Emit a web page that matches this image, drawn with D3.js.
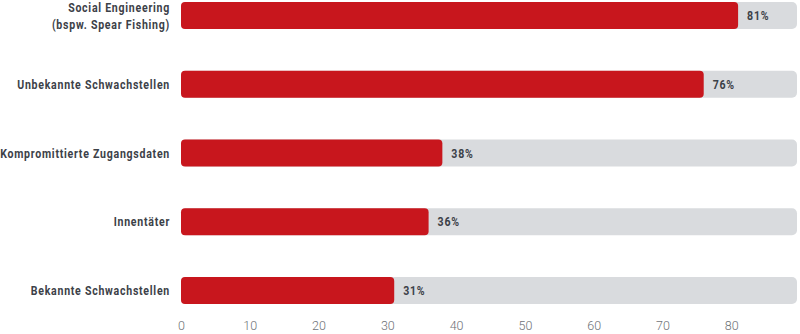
<!DOCTYPE html>
<html>
<head>
<meta charset="utf-8">
<script src="https://cdn.jsdelivr.net/npm/d3@7"></script>
<style>
  html, body { margin: 0; padding: 0; background: #fff; }
  svg { display: block; }
</style>
</head>
<body>
<svg id="chart" width="800" height="334"></svg>
<script>
// Angriffsvektoren, Anteil in Prozent
const categories = [
  ["Social Engineering", "(bspw. Spear Fishing)"],
  ["Unbekannte Schwachstellen"],
  ["Kompromittierte Zugangsdaten"],
  ["Innentäter"],
  ["Bekannte Schwachstellen"]
];
const values = [81, 76, 38, 36, 31];
const tickValues = [0, 10, 20, 30, 40, 50, 60, 70, 80];

const width = 800, height = 334;
const labelRight = 170;   // rechte Kante der Kategorienbeschriftung
const labelWidth = 170;   // verfügbare Breite für die längste Beschriftung
const lineGap = 17;       // Zeilenabstand mehrzeiliger Beschriftungen

const svg = d3.select("#chart");

const x = d3.scaleLinear()
  .domain([0, 90])
  .range([181, 800]);

const y = d3.scaleBand()
  .domain(d3.range(values.length))
  .range([2, 304])
  .paddingInner(0.607)
  .paddingOuter(0);

const bh = y.bandwidth();

// Hintergrundspur
svg.append("g").selectAll("rect")
  .data(values)
  .join("rect")
  .attr("x", x(0))
  .attr("y", (d, i) => y(i))
  .attr("width", 797 - x(0))
  .attr("height", bh)
  .attr("rx", 5)
  .attr("fill", "#d9dbde");

// Werte
svg.append("g").selectAll("rect")
  .data(values)
  .join("rect")
  .attr("x", x(0))
  .attr("y", (d, i) => y(i))
  .attr("width", d => x(d) - x(0))
  .attr("height", bh)
  .attr("rx", 4)
  .attr("fill", "#c8161d");

const fontFamily = "Roboto, sans-serif";
const fontSize = 13;

// Kategorien (schmal gesetzt)
const labelG = svg.append("g");
const labels = labelG.selectAll("text")
  .data(categories)
  .join("text")
  .attr("x", 0)
  .attr("y", (d, i) => y(i) + bh / 2)
  .attr("text-anchor", "end")
  .attr("font-family", fontFamily)
  .attr("font-weight", 700)
  .attr("font-size", fontSize)
  .attr("letter-spacing", "0.9px")
  .attr("fill", "#3c4148");

labels.each(function(lines, i) {
  const t = d3.select(this);
  const n = lines.length;
  const c = y(i) + bh / 2;
  lines.forEach((line, k) => {
    t.append("tspan")
      .attr("x", 0)
      .attr("y", c + (k - (n - 1) / 2) * lineGap + fontSize * 0.35)
      .text(line);
  });
});

// horizontale Stauchung so, dass die längste Zeile in die Spalte passt
let maxW = 0;
labels.selectAll("tspan").each(function() {
  maxW = Math.max(maxW, this.getComputedTextLength());
});
const sx = Math.min(1, labelWidth / maxW);
labelG.attr("transform", `translate(${labelRight},0) scale(${sx},1)`);

// Prozentangaben
svg.append("g").selectAll("text")
  .data(values)
  .join("text")
  .attr("transform", (d, i) => `translate(${x(d) + 9},${y(i) + bh / 2}) scale(${sx},1)`)
  .attr("dy", "0.35em")
  .attr("font-family", fontFamily)
  .attr("font-weight", 700)
  .attr("font-size", fontSize)
  .attr("letter-spacing", "0.9px")
  .attr("fill", "#3c4148")
  .text(d => d + "%");

// x-Achse
const axis = d3.axisBottom(x)
  .tickValues(tickValues)
  .tickSize(0)
  .tickPadding(0)
  .tickFormat(d3.format("d"));

const gx = svg.append("g")
  .attr("transform", "translate(0, 321)")
  .call(axis);
gx.select(".domain").remove();
gx.selectAll("text")
  .attr("font-family", fontFamily)
  .attr("font-weight", 300)
  .attr("font-size", 12.5)
  .attr("fill", "#6e7277");
</script>
</body>
</html>
